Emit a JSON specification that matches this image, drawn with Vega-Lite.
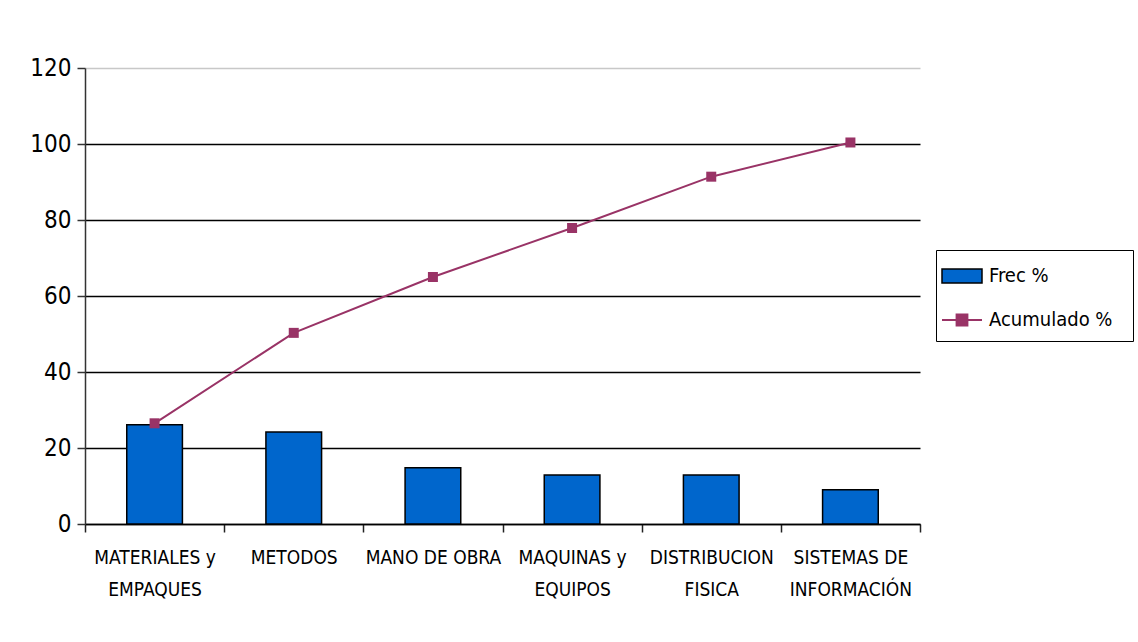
{
  "$schema": "https://vega.github.io/schema/vega-lite/v6.json",
  "width": 835,
  "height": 456,
  "autosize": {"type": "none"},
  "padding": {"left": 85, "top": 68, "right": 218, "bottom": 118},
  "background": "white",
  "config": {
    "view": {"stroke": null},
    "font": "DejaVu Sans Condensed"
  },
  "data": {
    "values": [
      {"cat": "MATERIALES y|EMPAQUES", "frec": 26.1, "acum": 26.5},
      {"cat": "METODOS", "frec": 24.2, "acum": 50.3},
      {"cat": "MANO DE OBRA", "frec": 14.8, "acum": 65.0},
      {"cat": "MAQUINAS y|EQUIPOS", "frec": 12.9, "acum": 77.9},
      {"cat": "DISTRIBUCION|FISICA", "frec": 12.9, "acum": 91.4},
      {"cat": "SISTEMAS DE|INFORMACIÓN", "frec": 9.0, "acum": 100.4}
    ]
  },
  "encoding": {
    "x": {
      "field": "cat",
      "type": "nominal",
      "sort": null,
      "scale": {"paddingInner": 0, "paddingOuter": 0},
      "axis": {
        "title": null,
        "labelAngle": 0,
        "labelExpr": "split(datum.label, '|')",
        "labelFontSize": 19,
        "labelLineHeight": 32,
        "labelPadding": 16,
        "labelBaseline": "top",
        "labelColor": "black",
        "tickBand": "extent",
        "tickSize": 8,
        "tickColor": "#222",
        "tickWidth": 1.5,
        "domainColor": "black",
        "domainWidth": 1.5,
        "grid": false
      }
    }
  },
  "resolve": {"scale": {"color": "independent"}},
  "layer": [
    {
      "mark": {"type": "bar", "width": {"band": 0.4}, "stroke": "black", "strokeWidth": 1.5},
      "encoding": {
        "y": {
          "field": "frec",
          "type": "quantitative",
          "scale": {"domain": [0, 120], "nice": false},
          "axis": {
            "title": null,
            "values": [0, 20, 40, 60, 80, 100, 120],
            "grid": true,
            "gridColor": {"condition": {"test": "datum.value == 120", "value": "#c8c8c8"}, "value": "black"},
            "gridWidth": 1.5,
            "domainColor": "#333",
            "domainWidth": 1.5,
            "tickColor": "#333",
            "tickWidth": 1.5,
            "tickSize": 8,
            "labelFontSize": 24,
            "labelPadding": 6,
            "labelColor": "black"
          }
        },
        "color": {
          "datum": "Frec %",
          "type": "nominal",
          "scale": {"domain": ["Frec %"], "range": ["#0066CC"]},
          "legend": {
            "title": "                              ",
            "titleOrient": "bottom",
            "titleFontSize": 20,
            "titlePadding": 30,
            "titleOpacity": 0,
            "orient": "none",
            "legendX": 851,
            "legendY": 182,
            "direction": "vertical",
            "strokeColor": "black",
            "padding": 5,
            "symbolSize": 1600,
            "symbolType": "M-1,-0.35H1V0.35H-1Z",
            "symbolStrokeColor": "black",
            "symbolStrokeWidth": 1.5,
            "symbolOpacity": 1,
            "labelFontSize": 20,
            "labelColor": "black",
            "labelOffset": 6,
            "labelLimit": 400,
            "labelExpr": "datum.label + '\u2800\u2800\u2800\u2800\u2800\u2800'"
          }
        }
      }
    },
    {
      "mark": {"type": "line", "strokeWidth": 2},
      "encoding": {
        "y": {"field": "acum", "type": "quantitative"},
        "color": {
          "datum": "Acumulado %",
          "type": "nominal",
          "scale": {"domain": ["Acumulado %"], "range": ["#993366"]},
          "legend": {
            "title": null,
            "orient": "none",
            "legendX": 856,
            "legendY": 231,
            "direction": "vertical",
            "padding": 0,
            "symbolSize": 1600,
            "symbolType": "M-1,0H1M-0.27,-0.27H0.27V0.27H-0.27Z",
            "symbolFillColor": "#993366",
            "symbolStrokeColor": "#993366",
            "symbolStrokeWidth": 2,
            "symbolOpacity": 1,
            "labelFontSize": 20,
            "labelColor": "black",
            "labelOffset": 6
          }
        }
      }
    },
    {
      "mark": {"type": "point", "shape": "square", "size": 100, "filled": true, "opacity": 1, "color": "#993366"},
      "encoding": {
        "y": {"field": "acum", "type": "quantitative"}
      }
    }
  ]
}
